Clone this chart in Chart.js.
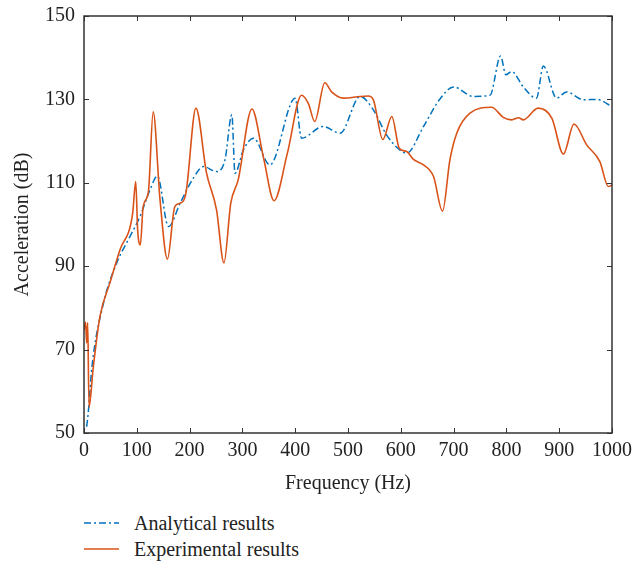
<!DOCTYPE html>
<html lang="en">
<head>
  <meta charset="UTF-8" />
  <title>Acceleration vs Frequency</title>
  <script src="https://cdn.jsdelivr.net/npm/chart.js"></script>
  <style>
    body { margin: 0; background: #fff; font-family: "Liberation Serif", "DejaVu Serif", serif; }
    #wrap { position: relative; width: 632px; height: 500px; }
    #legend { margin-left: 84px; margin-top: 10px; font-size: 20px; color: #222; }
    .item { display: flex; align-items: center; height: 26px; }
    .item svg { margin-right: 15px; }
  </style>
</head>
<body>

<div id="wrap"><canvas id="accChart" width="632" height="500"></canvas></div>
<div id="legend">
  <div class="item"><svg width="35" height="10"><line x1="0" y1="5" x2="35" y2="5" stroke="#0072BD" stroke-width="1.5" stroke-dasharray="7,3,2,3"/></svg>Analytical results</div>
  <div class="item"><svg width="35" height="10"><line x1="0" y1="5" x2="35" y2="5" stroke="#D95319" stroke-width="1.5"/></svg>Experimental results</div>
</div>

<script>
// values
const expFreq = [0, 3, 5, 7, 9.5, 17.6, 30, 49, 68, 92, 98, 101.6, 106.7, 112, 122, 131, 144, 158, 172, 182, 193, 212,
  232, 251, 265, 278, 292, 318, 340, 360, 385, 412, 425, 437, 456, 469, 491, 523, 538, 548, 566, 583, 597, 611,
  624, 643, 662, 679, 693, 706, 731, 772, 794, 810, 823, 832, 860, 886, 908, 928, 952, 977, 993, 1000];
const expAcc = [74.7, 76.6, 71.6, 76.5, 56.2, 65.8, 77.8, 86, 93.9, 102.5, 110.3, 98.7, 95.1, 104.3, 107.9, 127, 105.9, 91.7, 104.3, 105.1, 107.5, 127.9,
  112.4, 103.5, 90.8, 105.1, 110.7, 127.7, 116, 105.7, 117, 131, 129, 124.7, 134, 131.8, 130.3, 130.7, 130.8, 129.9, 120.4, 125.9, 118.3, 117.5,
  115.6, 114.3, 111.5, 103.2, 115.5, 121.9, 126.7, 128.1, 125.7, 125.1, 125.6, 125.1, 127.9, 125.5, 116.9, 124.1, 119.1, 115.1, 109.1, 109.5];

const anaFreq = [5, 8, 15, 37, 62, 87, 106, 125, 139, 160, 182, 207, 226, 251, 267, 280, 286, 302, 321, 352, 400, 412,
  453, 485, 523, 548, 573, 598, 611, 643, 673, 700, 737, 769, 789, 799, 810, 832, 857, 870, 895, 914, 946, 971, 1000];
const anaAcc = [51.5, 54.8, 65.8, 81.2, 90.8, 97.1, 101.9, 108.3, 111.6, 99.5, 105.1, 111.1, 113.9, 112.7, 115.5, 126.3, 112.3, 117.9, 120.7, 114.3, 130.3, 120.7,
  123.5, 121.9, 130.7, 127.5, 121.5, 117.9, 117.1, 123.5, 129.9, 133, 130.7, 131, 140.4, 135.9, 136.7, 133, 130.3, 138, 130.3, 131.8, 129.9, 130, 128.3];

const xTicks = [0, 100, 200, 300, 400, 500, 600, 700, 800, 900, 1000];
const yTicks = [50, 70, 90, 110, 130, 150];

const toPoints = (xs, ys) => xs.map((x, i) => ({ x: x, y: ys[i] }));

// inner tick marks on all four sides, like the original box axes
const innerTicks = {
  id: 'innerTicks',
  afterDraw(chart) {
    const { ctx, chartArea: a, scales: { x, y } } = chart;
    ctx.save();
    ctx.strokeStyle = '#333';
    ctx.lineWidth = 1;
    ctx.beginPath();
    xTicks.forEach(v => {
      const px = Math.round(x.getPixelForValue(v)) + 0.5;
      ctx.moveTo(px, a.bottom); ctx.lineTo(px, a.bottom - 5);
      ctx.moveTo(px, a.top); ctx.lineTo(px, a.top + 5);
    });
    yTicks.forEach(v => {
      const py = Math.round(y.getPixelForValue(v)) + 0.5;
      ctx.moveTo(a.left, py); ctx.lineTo(a.left + 5, py);
      ctx.moveTo(a.right, py); ctx.lineTo(a.right - 5, py);
    });
    ctx.stroke();
    ctx.lineWidth = 1.5;
    ctx.strokeRect(a.left, a.top, a.right - a.left, a.bottom - a.top);
    ctx.restore();
  }
};

const serif = '"Liberation Serif", "DejaVu Serif", serif';

new Chart(document.getElementById('accChart'), {
  type: 'line',
  data: {
    datasets: [
      {
        label: 'Experimental results',
        data: toPoints(expFreq, expAcc),
        borderColor: '#D95319',
        borderWidth: 1.6,
        pointRadius: 0,
        cubicInterpolationMode: 'monotone'
      },
      {
        label: 'Analytical results',
        data: toPoints(anaFreq, anaAcc),
        borderColor: '#0072BD',
        borderWidth: 1.5,
        borderDash: [7, 3, 2, 3],
        pointRadius: 0,
        cubicInterpolationMode: 'monotone'
      }
    ]
  },
  plugins: [innerTicks],
  options: {
    responsive: false,
    animation: false,
    layout: { padding: { top: 16, right: 20, left: 7, bottom: 0 } },
    plugins: { legend: { display: false }, tooltip: { enabled: false } },
    scales: {
      x: {
        type: 'linear',
        min: 0, max: 1000,
        afterBuildTicks: s => { s.ticks = xTicks.map(v => ({ value: v })); },
        afterFit: s => { s.height = 67; s.paddingLeft = 0; s.paddingRight = 0; },
        grid: { display: false, drawTicks: false },
        border: { display: false },
        ticks: { color: '#222', padding: 6, maxRotation: 0, callback: v => String(v), font: { family: serif, size: 20 } },
        title: { display: true, text: 'Frequency (Hz)', color: '#222', padding: { top: 2 }, font: { family: serif, size: 20 } }
      },
      y: {
        min: 50, max: 150,
        afterBuildTicks: s => { s.ticks = yTicks.map(v => ({ value: v })); },
        afterFit: s => { s.width = 77; s.paddingTop = 0; s.paddingBottom = 0; },
        grid: { display: false, drawTicks: false },
        border: { display: false },
        ticks: { color: '#222', padding: 9, font: { family: serif, size: 20 } },
        title: { display: true, text: 'Acceleration (dB)', color: '#222', padding: { bottom: 0 }, font: { family: serif, size: 20 } }
      }
    }
  }
});
</script>
</body>
</html>
